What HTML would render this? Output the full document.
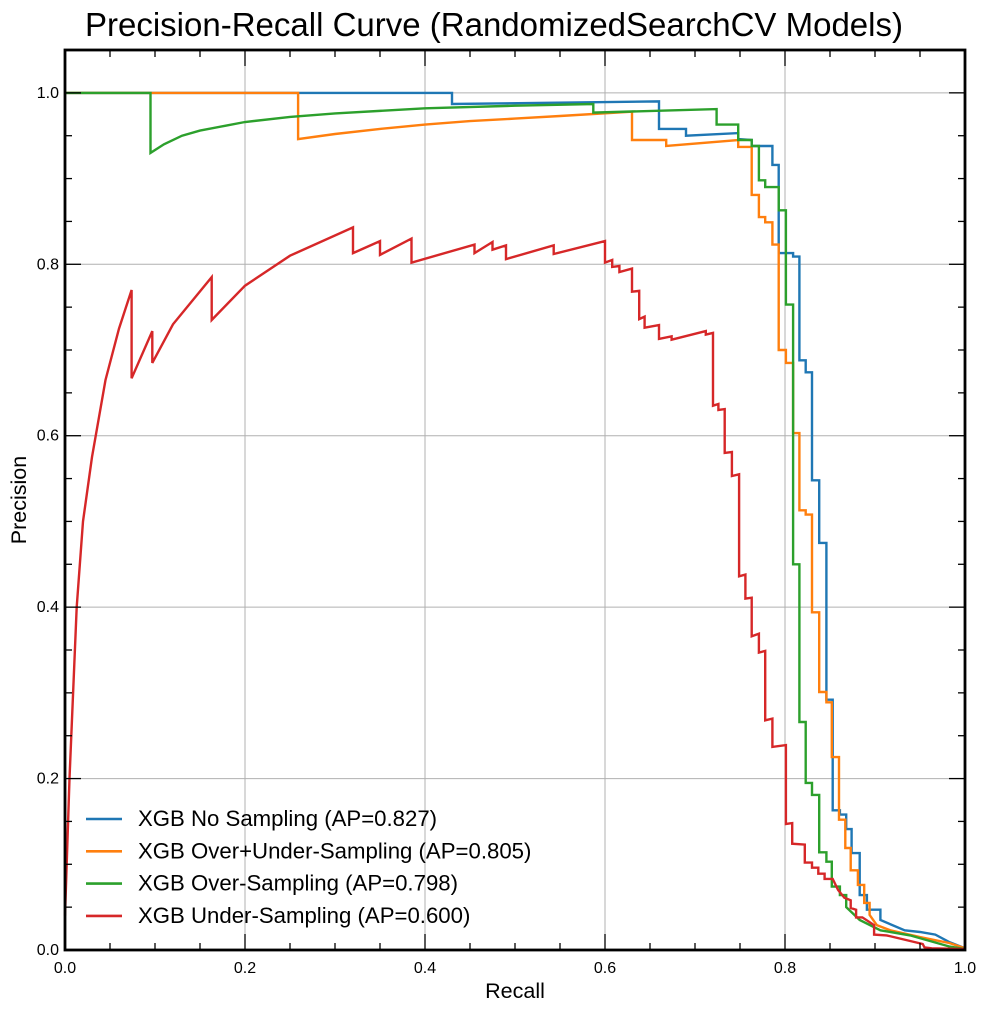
<!DOCTYPE html>
<html><head><meta charset="utf-8"><style>
body{margin:0;background:#fff}
svg{display:block}
text{font-family:"Liberation Sans",Arial,sans-serif;fill:#000}
</style></head><body>
<svg id="chart" width="987" height="1011" viewBox="0 0 987 1011" xmlns="http://www.w3.org/2000/svg">
<rect width="987" height="1011" fill="#fff"/>
<text x="494" y="36" font-size="33" text-anchor="middle">Precision-Recall Curve (RandomizedSearchCV Models)</text>
<g id="grid"></g>
<g id="series"></g>
<g id="ticks"></g>
<rect x="65" y="50" width="900" height="900" fill="none" stroke="#000" stroke-width="2.8"/>
<g id="ticklabels"></g>
<text x="515" y="998" font-size="21.5" text-anchor="middle">Recall</text>
<text transform="translate(26,500) rotate(-90)" font-size="21.5" text-anchor="middle">Precision</text>
<g id="legend"></g>
</svg>
<script>
const xTicks=[0,0.2,0.4,0.6,0.8,1.0];
const yTicks=[0,0.2,0.4,0.6,0.8,1.0];
const xTickLabels=["0.0","0.2","0.4","0.6","0.8","1.0"];
const yTickLabels=["0.0","0.2","0.4","0.6","0.8","1.0"];
const seriesNames=["XGB No Sampling (AP=0.827)","XGB Over+Under-Sampling (AP=0.805)","XGB Over-Sampling (AP=0.798)","XGB Under-Sampling (AP=0.600)"];
const seriesColors=["#1f77b4","#ff7f0e","#2ca02c","#d62728"];
const blueRecall=[0,0.430,0.430,0.660,0.660,0.690,0.690,0.748,0.748,0.763,0.763,0.786,0.786,0.793,0.793,0.809,0.809,0.816,0.816,0.823,0.823,0.830,0.830,0.838,0.838,0.846,0.846,0.853,0.853,0.861,0.861,0.868,0.868,0.874,0.874,0.883,0.883,0.891,0.891,0.906,0.906,0.933,0.950,0.967,0.983,1.0];
const bluePrecision=[1,1,0.987,0.990,0.958,0.958,0.950,0.953,0.946,0.945,0.938,0.938,0.916,0.916,0.813,0.813,0.809,0.809,0.688,0.688,0.674,0.674,0.548,0.548,0.475,0.475,0.292,0.292,0.163,0.163,0.158,0.158,0.141,0.141,0.113,0.113,0.064,0.064,0.047,0.047,0.035,0.023,0.021,0.018,0.009,0.002];
const orangeRecall=[0,0.259,0.259,0.30,0.35,0.40,0.45,0.50,0.55,0.63,0.63,0.668,0.668,0.748,0.748,0.763,0.763,0.771,0.771,0.778,0.778,0.786,0.786,0.793,0.793,0.801,0.801,0.809,0.809,0.816,0.816,0.823,0.823,0.830,0.830,0.838,0.838,0.846,0.846,0.852,0.852,0.860,0.860,0.867,0.867,0.873,0.873,0.881,0.881,0.888,0.888,0.894,0.894,0.902,0.917,0.95,0.983,1.0];
const orangePrecision=[1,1,0.946,0.952,0.958,0.963,0.967,0.970,0.973,0.978,0.945,0.945,0.938,0.945,0.937,0.937,0.881,0.881,0.855,0.855,0.849,0.849,0.823,0.823,0.700,0.700,0.685,0.685,0.603,0.603,0.513,0.513,0.508,0.508,0.394,0.394,0.301,0.301,0.289,0.289,0.225,0.225,0.152,0.152,0.119,0.119,0.093,0.093,0.076,0.076,0.055,0.055,0.041,0.029,0.023,0.015,0.008,0.002];
const greenRecall=[0,0.095,0.095,0.11,0.13,0.15,0.18,0.20,0.25,0.30,0.40,0.50,0.587,0.587,0.724,0.724,0.748,0.748,0.763,0.763,0.771,0.771,0.778,0.778,0.793,0.793,0.801,0.801,0.809,0.809,0.816,0.816,0.823,0.823,0.830,0.830,0.838,0.838,0.846,0.846,0.852,0.852,0.861,0.861,0.868,0.868,0.883,0.906,0.939,0.983,1.0];
const greenPrecision=[1,1,0.930,0.940,0.950,0.956,0.962,0.966,0.972,0.976,0.982,0.985,0.987,0.977,0.981,0.963,0.963,0.945,0.945,0.938,0.938,0.898,0.898,0.890,0.890,0.863,0.863,0.753,0.753,0.450,0.450,0.266,0.266,0.195,0.195,0.181,0.181,0.114,0.114,0.103,0.103,0.074,0.074,0.064,0.064,0.050,0.035,0.023,0.017,0.004,0.001];
const redRecall=[0,0.005,0.013,0.020,0.030,0.045,0.060,0.074,0.074,0.097,0.097,0.12,0.163,0.163,0.20,0.25,0.32,0.32,0.35,0.35,0.385,0.385,0.455,0.455,0.475,0.475,0.49,0.49,0.543,0.543,0.600,0.600,0.608,0.608,0.616,0.616,0.630,0.630,0.638,0.638,0.644,0.644,0.660,0.660,0.674,0.674,0.712,0.712,0.720,0.720,0.726,0.726,0.733,0.733,0.741,0.741,0.749,0.749,0.756,0.756,0.763,0.763,0.771,0.771,0.778,0.778,0.786,0.786,0.801,0.801,0.808,0.808,0.822,0.822,0.830,0.830,0.837,0.837,0.844,0.844,0.853,0.859,0.866,0.873,0.873,0.879,0.879,0.886,0.899,0.899,0.913,0.953,0.955,0.963,1.0];
const redPrecision=[0.04,0.2,0.4,0.5,0.575,0.665,0.725,0.770,0.667,0.722,0.685,0.73,0.785,0.735,0.775,0.810,0.843,0.813,0.827,0.811,0.830,0.802,0.823,0.813,0.826,0.817,0.822,0.806,0.822,0.812,0.827,0.802,0.805,0.797,0.798,0.791,0.795,0.768,0.769,0.736,0.739,0.726,0.729,0.713,0.716,0.712,0.722,0.718,0.720,0.635,0.637,0.630,0.631,0.580,0.581,0.553,0.555,0.436,0.438,0.410,0.411,0.366,0.369,0.347,0.349,0.268,0.270,0.237,0.239,0.147,0.148,0.124,0.123,0.102,0.102,0.096,0.096,0.089,0.089,0.083,0.083,0.070,0.061,0.058,0.049,0.047,0.038,0.038,0.029,0.018,0.017,0.007,0.003,0.002,0.001];
const NS="http://www.w3.org/2000/svg";
const X0=65,X1=965,Y0=950,Ymax=1.05,PH=900;
function xs(v){return X0+v*(X1-X0);}
function ys(v){return Y0-v/Ymax*PH;}
function mk(tag,attrs,parent){const e=document.createElementNS(NS,tag);for(const k in attrs)e.setAttribute(k,attrs[k]);parent.appendChild(e);return e;}
const grid=document.getElementById('grid'),ticks=document.getElementById('ticks'),tl=document.getElementById('ticklabels');
xTicks.forEach((v,i)=>{
  const g=mk('line',{x1:xs(v),x2:xs(v),y1:50,y2:950,stroke:'#b0b0b0','stroke-width':1},grid);
  
  
  const t=mk('text',{x:xs(v),y:973,'font-size':16,'text-anchor':'middle'},tl);
  t.textContent=xTickLabels[i];
  
  
});
yTicks.forEach((v,i)=>{
  const g=mk('line',{x1:65,x2:965,y1:ys(v),y2:ys(v),stroke:'#b0b0b0','stroke-width':1},grid);
  
  
  const t=mk('text',{x:59,y:ys(v)+5,'font-size':16,'text-anchor':'end'},tl);
  t.textContent=yTickLabels[i];
  
  
});
for(let k=0;k<=20;k++){
  const v=k*0.05;const major=(k%4===0);const L=major?16:7;
  mk('line',{x1:xs(v),x2:xs(v),y1:950,y2:950-L,stroke:'#000','stroke-width':1.3},ticks);
  mk('line',{x1:xs(v),x2:xs(v),y1:50,y2:50+L,stroke:'#000','stroke-width':1.3},ticks);
  mk('line',{x1:65,x2:65+L,y1:ys(v),y2:ys(v),stroke:'#000','stroke-width':1.3},ticks);
  mk('line',{x1:965,x2:965-L,y1:ys(v),y2:ys(v),stroke:'#000','stroke-width':1.3},ticks);
}
const sg=document.getElementById('series');
const allR=[blueRecall,orangeRecall,greenRecall,redRecall];
const allP=[bluePrecision,orangePrecision,greenPrecision,redPrecision];
const sNames=['curve-no-sampling','curve-over-under-sampling','curve-over-sampling','curve-under-sampling'];
allR.forEach((R,s)=>{
  const pts=R.map((r,i)=>xs(r).toFixed(1)+','+ys(allP[s][i]).toFixed(1)).join(' ');
  const pl=mk('polyline',{points:pts,fill:'none',stroke:seriesColors[s],'stroke-width':2.4,'stroke-linejoin':'miter'},sg);
  
  
});
const lg=document.getElementById('legend');
seriesNames.forEach((n,i)=>{
  const y=819+i*32.3;
  const l=mk('line',{x1:86,x2:122,y1:y,y2:y,stroke:seriesColors[i],'stroke-width':2.6},lg);
  
  
  const t=mk('text',{x:138,y:y+7,'font-size':22.2},lg);
  t.textContent=n;
  
  
});
</script>
</body></html>
